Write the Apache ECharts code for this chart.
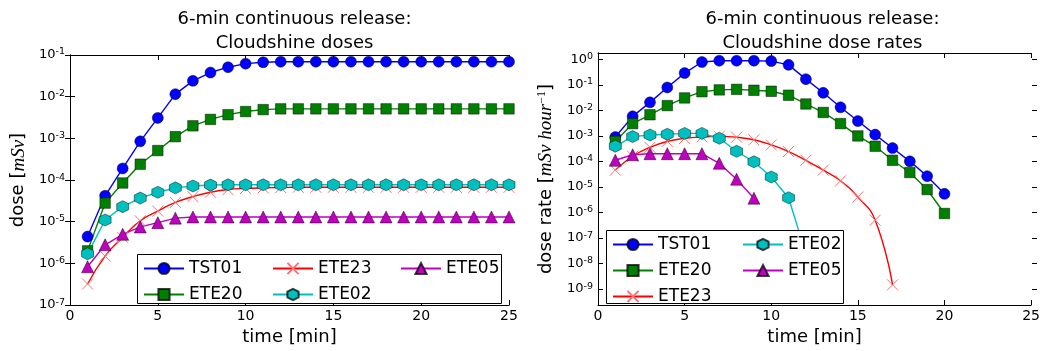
<!DOCTYPE html>
<html>
<head>
<meta charset="utf-8">
<script src="https://cdn.jsdelivr.net/npm/echarts@6/dist/echarts.min.js"></script>
<style>html,body{margin:0;padding:0;background:#fff}#c{width:1043px;height:351px}</style>
</head>
<body>
<div id="c"></div>
<script>
// ---------- data ----------
const timesDose = [1,2,3,4,5,6,7,8,9,10,11,12,13,14,15,16,17,18,19,20,21,22,23,24,25];
const TST01_dose = [4.4e-6,4.2e-5,1.9e-4,8.5e-4,3.1e-3,1.15e-2,2.4e-2,3.8e-2,5.1e-2,6.2e-2,6.7e-2,6.9e-2,6.9e-2,6.9e-2,6.9e-2,6.9e-2,6.9e-2,6.9e-2,6.9e-2,6.9e-2,6.9e-2,6.9e-2,6.9e-2,6.9e-2,6.9e-2];
const ETE20_dose = [2.0e-6,2.8e-5,8.5e-5,2.4e-4,5.1e-4,1.1e-3,2.0e-3,2.85e-3,3.7e-3,4.4e-3,4.9e-3,5.1e-3,5.1e-3,5.1e-3,5.1e-3,5.1e-3,5.1e-3,5.1e-3,5.1e-3,5.1e-3,5.1e-3,5.1e-3,5.1e-3,5.1e-3,5.1e-3];
const ETE23_dose = [3.2e-7,1.5e-6,4.2e-6,1.05e-5,1.8e-5,2.9e-5,4.0e-5,5.1e-5,5.9e-5,6.3e-5,6.5e-5,6.6e-5,6.7e-5,6.7e-5,6.7e-5,6.7e-5,6.7e-5,6.7e-5,6.7e-5,6.7e-5,6.7e-5,6.7e-5,6.7e-5,6.7e-5,6.7e-5];
const ETE02_dose = [1.7e-6,1.1e-5,2.3e-5,3.7e-5,5.1e-5,6.5e-5,7.2e-5,7.6e-5,7.7e-5,7.7e-5,7.7e-5,7.7e-5,7.7e-5,7.7e-5,7.7e-5,7.7e-5,7.7e-5,7.7e-5,7.7e-5,7.7e-5,7.7e-5,7.7e-5,7.7e-5,7.7e-5,7.7e-5];
const ETE05_dose = [8.3e-7,2.8e-6,5.0e-6,7.5e-6,9.5e-6,1.22e-5,1.3e-5,1.3e-5,1.3e-5,1.3e-5,1.3e-5,1.3e-5,1.3e-5,1.3e-5,1.3e-5,1.3e-5,1.3e-5,1.3e-5,1.3e-5,1.3e-5,1.3e-5,1.3e-5,1.3e-5,1.3e-5,1.3e-5];

const timesRate = [1,2,3,4,5,6,7,8,9,10,11,12,13,14,15,16,17,18,19,20];
const TST01_rate = [7.5e-4,5.1e-3,1.86e-2,7.4e-2,0.28,0.78,0.88,0.88,0.88,0.85,0.6,0.16,0.045,0.0118,3.3e-3,9.4e-4,2.7e-4,7.9e-5,2.0e-5,3.9e-6];
const ETE20_rate = [5.0e-4,2.6e-3,5.9e-3,1.38e-2,2.8e-2,0.050,0.059,0.062,0.057,0.052,0.036,0.016,7.3e-3,2.6e-3,8.3e-4,3.2e-4,8.7e-5,2.8e-5,5.8e-6,6.3e-7];
const ETE23_rate = [3.5e-5,1.26e-4,2.9e-4,5.0e-4,6.6e-4,7.6e-4,8.0e-4,7.4e-4,5.8e-4,3.6e-4,1.96e-4,8.7e-5,3.5e-5,1.3e-5,2.9e-6,3.4e-7,8.5e-10];
const ETE02_rate = [3.2e-4,7.8e-4,9.1e-4,9.7e-4,1.05e-3,1.05e-3,6.7e-4,2.0e-4,7.6e-5,1.85e-5,2.7e-6,1.5e-8];
const ETE05_rate = [8.7e-5,1.45e-4,1.6e-4,1.6e-4,1.6e-4,1.6e-4,6.6e-5,1.5e-5,2.6e-6];

const seriesNames = ['TST01','ETE20','ETE23','ETE02','ETE05'];
const xMin = 0, xMax = 25, xStep = 5;
const yLeftMin = 1e-7, yLeftMax = 1e-1;
const yRightMin = 1.3e-10, yRightMax = 1.8;        // plot limits of the right panel
const yRightTickMin = 1e-9, yRightTickMax = 1e0;   // labelled decades of the right panel
const titleLeft = '6-min continuous release:\nCloudshine doses';
const titleRight = '6-min continuous release:\nCloudshine dose rates';

// ---------- layout ----------
const W = 1043, H = 351;
const L = {left:70, right:509, top:55, bottom:312};
const R = {left:598, right:1037, top:53, bottom:311.7};
// decade-tick grid that overlays the right panel exactly on the same log scale
const lmax = Math.log10(yRightMax), lmin = Math.log10(yRightMin);
const pxDec = (R.bottom - R.top) / (lmax - lmin);
const RT = {top: R.top + (lmax - Math.log10(yRightTickMax)) * pxDec,
            bottom: R.top + (lmax - Math.log10(yRightTickMin)) * pxDec};

// ---------- styles ----------
const FONT = 'DejaVu Sans';
const HEX = 'path://M0,-1L0.866,-0.5L0.866,0.5L0,1L-0.866,0.5L-0.866,-0.5Z';
const XMARK = 'path://M0,0L10,10M10,0L0,10';
const styles = {
  TST01: {color:'#0000ff', symbol:'circle', size:11},
  ETE20: {color:'#008000', symbol:'rect', size:10.5},
  ETE23: {color:'#ff0000', symbol:XMARK, size:11, cross:true},
  ETE02: {color:'#00bfbf', symbol:HEX, size:12},
  ETE05: {color:'#bf00bf', symbol:'triangle', size:12}
};

function pairs(ts, vs){ return vs.map((v,i)=>[ts[i], v]); }

function mkSeries(name, ts, vs, gi){
  const s = styles[name];
  const o = {
    name, type:'line', xAxisIndex: gi===0?0:2, yAxisIndex: gi===0?0:2,
    data: pairs(ts, vs), symbol: s.symbol, symbolSize: s.size,
    lineStyle:{color:s.color, width:1.4},
    animation:false, z: 2
  };
  if (s.cross) {
    o.itemStyle = {color:'rgba(0,0,0,0)', borderColor:'#ff7070', borderWidth:1};
    o.smooth = 0.5;
  } else {
    o.itemStyle = {color:s.color, borderColor:'rgba(0,0,0,0.75)', borderWidth:0.6};
  }
  return o;
}

function logFmt(v){
  const e = Math.log10(v);
  const r = Math.round(e);
  if (Math.abs(e - r) > 1e-6) return '';
  return '{b|10}{s|' + r + '}';
}
const logRich = {
  b:{fontFamily:FONT, fontSize:13, color:'#000'},
  s:{fontFamily:FONT, fontSize:9.5, color:'#000', verticalAlign:'top', padding:[0,0,6,0]}
};
const TICK = {show:true, inside:true, length:5, lineStyle:{color:'#000', width:1}};
const LINE = {show:true, lineStyle:{color:'#000', width:1}};

function xAxes(gi){
  return [
    {gridIndex:gi, type:'value', min:xMin, max:xMax, interval:xStep, position:'bottom',
     name:'time [min]', nameLocation:'middle', nameGap:16,
     nameTextStyle:{fontFamily:FONT, fontSize:18, color:'#000'},
     axisLine:LINE, axisTick:TICK,
     axisLabel:{fontFamily:FONT, fontSize:14, color:'#000', margin:4},
     splitLine:{show:false}},
    {gridIndex:gi, type:'value', min:xMin, max:xMax, interval:xStep, position:'top',
     axisLine:LINE, axisTick:TICK, axisLabel:{show:false}, splitLine:{show:false}}
  ];
}
function yPair(gi, min, max, opts){
  const showLine = opts.line !== false, showTick = opts.tick !== false;
  const a = {gridIndex:gi, type:'log', logBase:10, min, max, position:'left',
     axisLine: showLine ? LINE : {show:false},
     axisTick: showTick ? TICK : {show:false},
     axisLabel: opts.labels ? {formatter:logFmt, rich:logRich, margin:5} : {show:false},
     splitLine:{show:false}};
  if (opts.name) {
    Object.assign(a, {name:opts.name, nameLocation:'middle', nameGap:opts.gap, nameRotate:90,
      nameTextStyle:{fontFamily:FONT, fontSize:18, color:'#000', rich:opts.rich}});
  }
  const b = {gridIndex:gi, type:'log', logBase:10, min, max, position:'right',
     axisLine: showLine ? LINE : {show:false},
     axisTick: showTick ? TICK : {show:false},
     axisLabel:{show:false}, splitLine:{show:false}};
  return [a, b];
}

const nameRichL = {
  i:{fontFamily:'Liberation Serif', fontStyle:'italic', fontSize:19, color:'#000'}
};
const nameRichR = {
  i:{fontFamily:'Liberation Serif', fontStyle:'italic', fontSize:19, color:'#000'},
  s:{fontFamily:'Liberation Serif', fontSize:12, color:'#000', verticalAlign:'top', padding:[0,0,8,0]}
};

function legend(names, left, top){
  return {
    data:names, orient:'vertical', left, top, itemWidth:40, itemHeight:14, itemGap:9,
    textStyle:{fontFamily:FONT, fontSize:17, color:'#000'}, padding:0, z:10,
    selectedMode:false
  };
}

const option = {
  animation:false,
  backgroundColor:'#fff',
  title:[
    {text:titleLeft, left:(L.left+L.right)/2, textAlign:'center', top:2,
     textStyle:{fontFamily:FONT, fontSize:18, fontWeight:'normal', color:'#000', lineHeight:24}},
    {text:titleRight, left:(R.left+R.right)/2, textAlign:'center', top:2,
     textStyle:{fontFamily:FONT, fontSize:18, fontWeight:'normal', color:'#000', lineHeight:24}}
  ],
  grid:[
    {left:L.left, right:W-L.right, top:L.top, bottom:H-L.bottom},
    {left:R.left, right:W-R.right, top:R.top, bottom:H-R.bottom},
    {left:R.left, right:W-R.right, top:RT.top, bottom:H-RT.bottom}
  ],
  xAxis:[...xAxes(0), ...xAxes(1),
    {gridIndex:2, type:'value', min:xMin, max:xMax, show:false}],
  yAxis:[
    ...yPair(0, yLeftMin, yLeftMax, {labels:true, name:'dose [{i|mSv}]', rich:nameRichL, gap:42}),
    ...yPair(1, yRightMin, yRightMax, {labels:false, tick:false,
        name:'dose rate [{i|mSv hour}{s|−1}]', rich:nameRichR, gap:42}),
    ...yPair(2, yRightTickMin, yRightTickMax, {labels:true, line:false})
  ],
  legend:[
    legend(['TST01','ETE20'], 143, 260),
    legend(['ETE23','ETE02'], 272, 260),
    legend(['ETE05'], 400, 260),
    legend(['TST01','ETE20','ETE23'], 612, 236),
    legend(['ETE02','ETE05'], 742, 236)
  ],
  graphic:{elements:[
    {type:'rect', shape:{x:137.5, y:254.5, width:364, height:49}, style:{fill:'#fff', stroke:'#000', lineWidth:1}, z:5},
    {type:'rect', shape:{x:606.5, y:230.5, width:237, height:73}, style:{fill:'#fff', stroke:'#000', lineWidth:1}, z:5}
  ]},
  series:[
    mkSeries('TST01', timesDose, TST01_dose, 0),
    mkSeries('ETE20', timesDose, ETE20_dose, 0),
    mkSeries('ETE23', timesDose, ETE23_dose, 0),
    mkSeries('ETE02', timesDose, ETE02_dose, 0),
    mkSeries('ETE05', timesDose, ETE05_dose, 0),
    mkSeries('TST01', timesRate, TST01_rate, 1),
    mkSeries('ETE20', timesRate, ETE20_rate, 1),
    mkSeries('ETE23', timesRate.slice(0, ETE23_rate.length), ETE23_rate, 1),
    mkSeries('ETE02', timesRate.slice(0, ETE02_rate.length), ETE02_rate, 1),
    mkSeries('ETE05', timesRate.slice(0, ETE05_rate.length), ETE05_rate, 1)
  ]
};
const chart = echarts.init(document.getElementById('c'), null, {renderer:'canvas'});
chart.setOption(option);
</script>
</body>
</html>
